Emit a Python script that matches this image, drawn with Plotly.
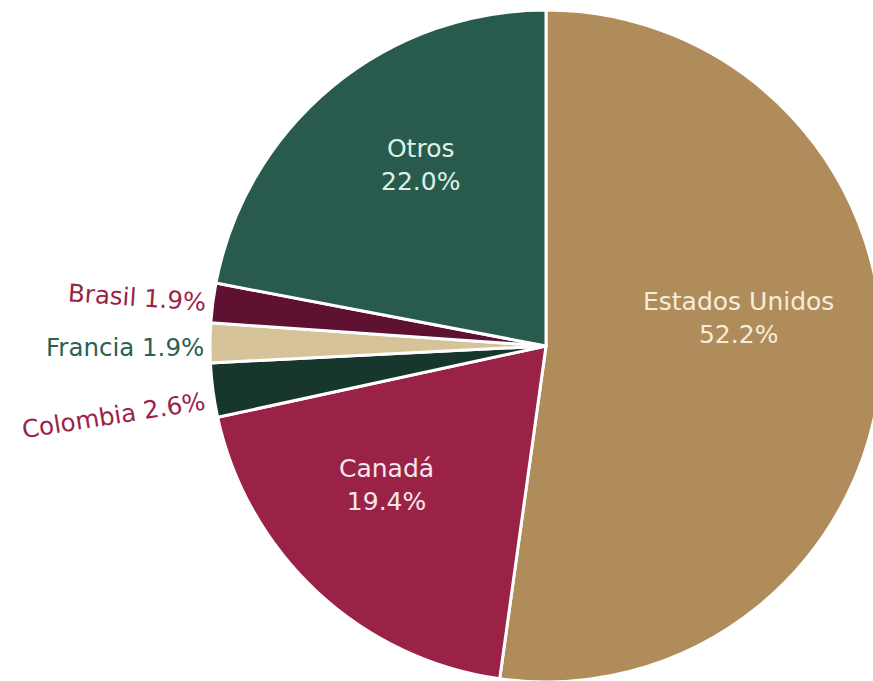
import math
import plotly.graph_objects as go

# data
paises = ['Estados Unidos', 'Canadá', 'Colombia', 'Francia', 'Brasil', 'Otros']
porcentajes = [52.2, 19.4, 2.6, 1.9, 1.9, 22.0]
colores = ['#AF8C5A', '#9A2246', '#17362C', '#D7C39A', '#5E1130', '#285B4D']

# label styling
color_texto = {'Estados Unidos': '#F5EDDC', 'Canadá': '#F7E6EC', 'Otros': '#DDF0E6'}
# inside labels: (angle offset from slice middle in degrees, radius fraction)
pos_dentro = {'Estados Unidos': (12.3, 0.58), 'Canadá': (-6.2, 0.63), 'Otros': (-4.8, 0.655)}
# outside labels: colour, text angle, vertical shift in px
color_etiqueta = {'Colombia': '#9A2246', 'Francia': '#2A6250', 'Brasil': '#9A2246'}
angulo_etiqueta = {'Colombia': -9, 'Francia': 0, 'Brasil': 4}
desplaz_etiqueta = {'Colombia': 25, 'Francia': 5, 'Brasil': -5}

# the pie is a bit larger than the 873x681 window, so the page is clipped
W, H = 882, 682
cx, cy, R = 546, 346, 336
fuente = 'DejaVu Sans'

fig = go.Figure()
fig.add_trace(go.Pie(labels=paises,
                     values=porcentajes,
                     textinfo='none',
                     sort=False,
                     direction='clockwise',
                     rotation=0,
                     marker=dict(colors=colores, line=dict(color='white', width=3)),
                     hoverinfo='label+percent',
                     showlegend=False,
                     domain=dict(x=[(cx - R) / W, (cx + R) / W],
                                 y=[(H - cy - R) / H, (H - cy + R) / H])
                     )
              )

# labels placed from each slice's middle angle
total = sum(porcentajes)
acum = 0
for p, v in zip(paises, porcentajes):
    medio = 90 - 360 * (acum + v / 2) / total
    acum += v
    if p in pos_dentro:
        da, fr = pos_dentro[p]
        a = math.radians(medio + da)
        px = cx + fr * R * math.cos(a)
        py = cy - fr * R * math.sin(a)
        fig.add_annotation(x=px / W, y=1 - py / H, xref='paper', yref='paper',
                           text='%s<br>%.1f%%' % (p, v),
                           showarrow=False,
                           xanchor='center', yanchor='middle',
                           font=dict(family=fuente, size=25, color=color_texto[p]))
    else:
        a = math.radians(medio)
        px = cx + (R + 4) * math.cos(a)
        py = cy - (R + 4) * math.sin(a) + desplaz_etiqueta[p]
        fig.add_annotation(x=px / W, y=1 - py / H, xref='paper', yref='paper',
                           text='%s %.1f%%' % (p, v),
                           showarrow=False,
                           xanchor='right', yanchor='middle',
                           textangle=angulo_etiqueta[p],
                           font=dict(family=fuente, size=24.5, color=color_etiqueta[p]))

fig.update_layout(width=W, height=H,
                  margin=dict(l=0, r=0, t=0, b=0),
                  paper_bgcolor='white',
                  plot_bgcolor='white')

fig.write_html("out.html",
               config={'displayModeBar': False},
               post_script="document.body.style.margin='0';"
                           "document.body.style.overflow='hidden';"
                           "document.documentElement.style.overflow='hidden';")
